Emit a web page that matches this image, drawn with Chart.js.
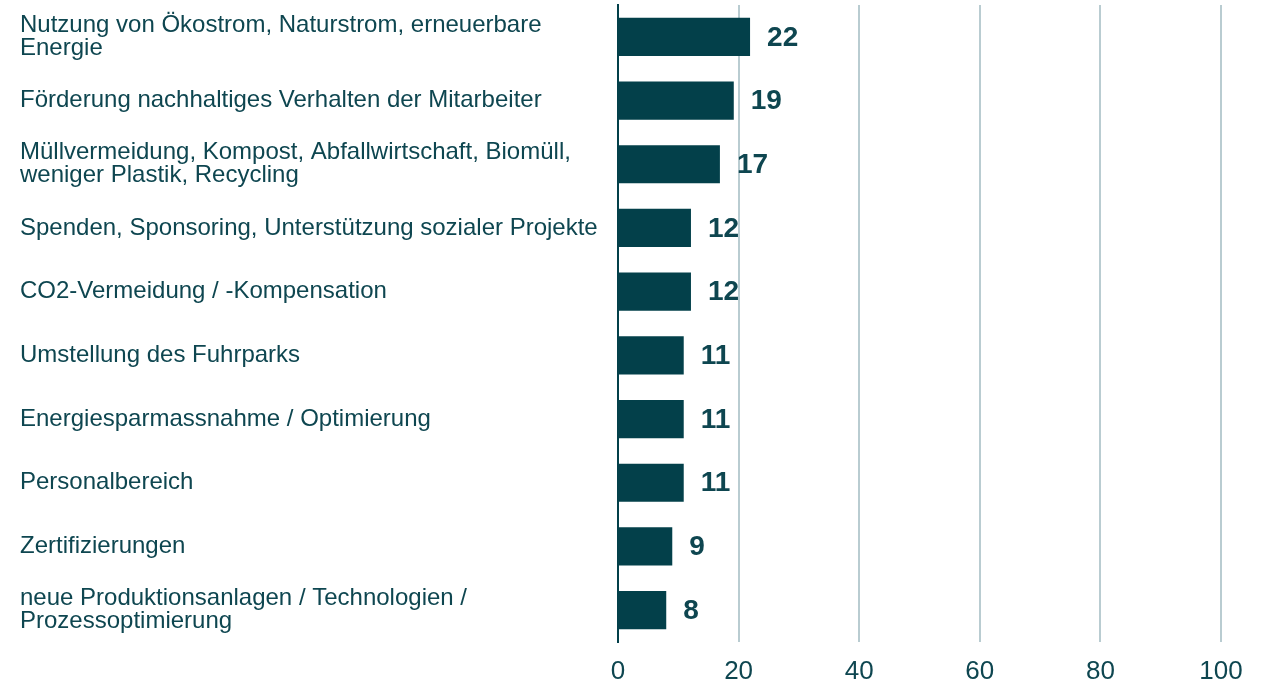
<!DOCTYPE html>
<html>
<head>
<meta charset="utf-8">
<script src="https://cdn.jsdelivr.net/npm/chart.js@4/dist/chart.umd.min.js"></script>
<style>
html,body{margin:0;padding:0;background:#fff;}
#wrap{width:1268px;height:684px;position:relative;}
</style>
</head>
<body>
<div id="wrap"><canvas id="c"></canvas></div>
<script>
const categories = [
  ["Nutzung von Ökostrom, Naturstrom, erneuerbare", "Energie"],
  "Förderung nachhaltiges Verhalten der Mitarbeiter",
  ["Müllvermeidung, Kompost, Abfallwirtschaft, Biomüll,", "weniger Plastik, Recycling"],
  "Spenden, Sponsoring, Unterstützung sozialer Projekte",
  "CO2-Vermeidung / -Kompensation",
  "Umstellung des Fuhrparks",
  "Energiesparmassnahme / Optimierung",
  "Personalbereich",
  "Zertifizierungen",
  ["neue Produktionsanlagen / Technologien /", "Prozessoptimierung"]
];
const values = [21.9, 19.2, 16.9, 12.1, 12.1, 10.9, 10.9, 10.9, 9.0, 8.0];
const valueLabels = ["22", "19", "17", "12", "12", "11", "11", "11", "9", "8"];
const xTicks = [0, 20, 40, 60, 80, 100];

const barColor = "#03404a";
const textColor = "#0e4650";
const gridColor = "#b9ccd1";

const valueLabelPlugin = {
  id: "valueLabels",
  afterDatasetsDraw(chart) {
    const ctx = chart.ctx;
    const meta = chart.getDatasetMeta(0);
    ctx.save();
    ctx.font = "bold 28px 'Liberation Sans', Arial, sans-serif";
    ctx.fillStyle = textColor;
    ctx.textAlign = "left";
    ctx.textBaseline = "middle";
    meta.data.forEach((bar, i) => {
      ctx.fillText(valueLabels[i], bar.x + 17, bar.y + 1);
    });
    ctx.restore();
  }
};

new Chart(document.getElementById("c"), {
  type: "bar",
  data: {
    labels: categories,
    datasets: [{
      data: values,
      backgroundColor: barColor,
      borderWidth: 0,
      barPercentage: 0.6,
      categoryPercentage: 1.0
    }]
  },
  options: {
    indexAxis: "y",
    responsive: true,
    maintainAspectRatio: false,
    animation: false,
    layout: { padding: { left: 20, right: 47, top: 5, bottom: 0 } },
    plugins: { legend: { display: false }, tooltip: { enabled: false } },
    scales: {
      x: {
        min: 0, max: 100,
        afterBuildTicks(scale) { scale.ticks = xTicks.map(v => ({ value: v })); },
        afterFit(scale) { scale.height = 42; },
        grid: {
          drawTicks: false,
          color: ctx => (ctx.tick && ctx.tick.value === 0) ? "rgba(0,0,0,0)" : gridColor,
          lineWidth: 2
        },
        border: { display: false },
        ticks: {
          color: textColor,
          font: { family: "'Liberation Sans', Arial, sans-serif", size: 26, lineHeight: 1.0 },
          padding: 17
        }
      },
      y: {
        grid: { display: false, drawTicks: false },
        border: { display: true, color: barColor, width: 2 },
        afterFit(scale) {
          scale.width = 598;
          scale.paddingTop = 0;
          scale.paddingBottom = 0;
        },
        ticks: {
          crossAlign: "far",
          color: textColor,
          font: { family: "'Liberation Sans', Arial, sans-serif", size: 24, lineHeight: 0.96 },
          padding: 10
        }
      }
    }
  },
  plugins: [valueLabelPlugin]
});
</script>
</body>
</html>
